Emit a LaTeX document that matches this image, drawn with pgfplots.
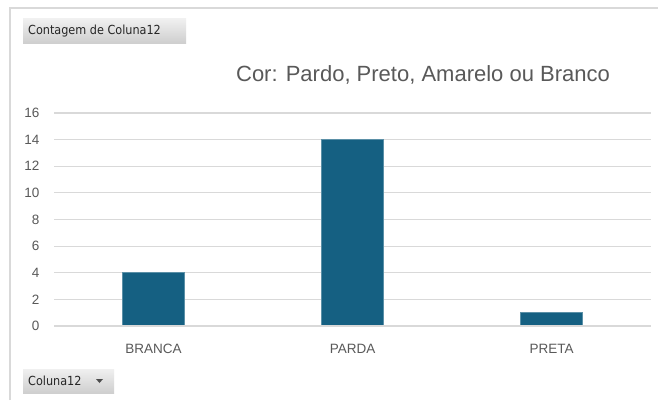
\documentclass[border=0pt]{standalone}
\usepackage{pgfplots}
\pgfplotsset{compat=1.18}
\usepackage{fontspec}
\setmainfont{Liberation Sans}
\newfontfamily\btnfont{DejaVu Sans Condensed}
\definecolor{barblue}{HTML}{156082}
\definecolor{txtgray}{HTML}{595959}
\definecolor{gridgray}{HTML}{D9D9D9}
\begin{document}
\begin{tikzpicture}[x=1bp,y=1bp]
\useasboundingbox (0,0) rectangle (658,400);
\fill[white] (0,0) rectangle (658,400);
% chart frame
\draw[gridgray, line width=1.2bp] (10,0) -- (10,392) -- (658,392);
% buttons
\shade[top color=gray!12, bottom color=gray!38] (23,357) rectangle (186,381);
\node[anchor=west, inner sep=0, text=black!85, font=\btnfont\fontsize{12.5bp}{14bp}\selectfont] at (28,369) {Contagem de Coluna12};
\shade[top color=gray!12, bottom color=gray!38] (23,7) rectangle (114,31);
\node[anchor=west, inner sep=0, text=black!85, font=\btnfont\fontsize{12.5bp}{14bp}\selectfont] at (28,19) {Coluna12};
\fill[black!70] (96,21) -- (103,21) -- (99.5,17) -- cycle;
% title
\node[text=txtgray, font=\fontsize{22bp}{24bp}\selectfont] at (423,325) {Cor: Pardo, Preto, Amarelo ou Branco};
\begin{axis}[
  at={(54bp,74bp)}, anchor=south west,
  scale only axis, width=597bp, height=213bp,
  xmin=-0.5, xmax=2.5, ymin=0, ymax=16,
  ytick={0,2,...,16},
  xtick={0,1,2}, xticklabels={BRANCA,PARDA,PRETA},
  axis line style={draw=none},
  ymajorgrids, grid style={gridgray, line width=1.2bp},
  major tick length=0,
  tick label style={text=txtgray, font=\fontsize{13.5bp}{15bp}\selectfont},
  /pgf/number format/assume math mode=true,
  yticklabel style={xshift=-11bp},
  xticklabel style={yshift=-15bp},
  clip=false,
]
\addplot[ybar, bar width=62bp, fill=barblue, draw=barblue!70!white, line width=0.6bp] coordinates {(0,4) (1,14) (2,1)};
\draw[gridgray, line width=1.2bp] (axis cs:-0.5,0) -- (axis cs:2.5,0);
\end{axis}
\end{tikzpicture}
\end{document}
